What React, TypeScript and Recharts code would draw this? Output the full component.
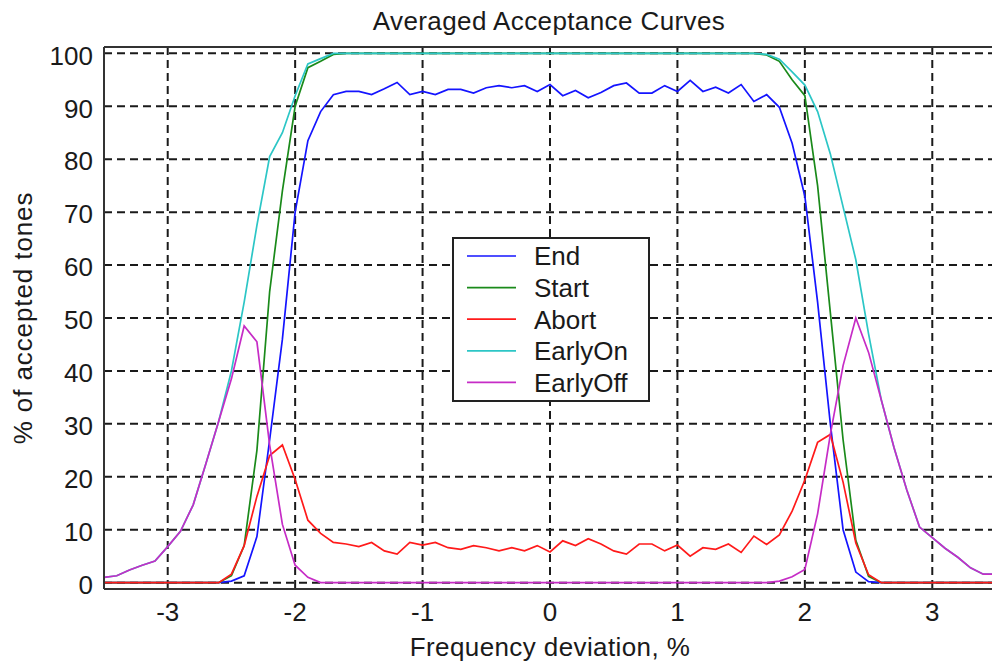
import { LineChart, Line, XAxis, YAxis, CartesianGrid, Legend, ReferenceLine } from 'recharts';

// frequency deviation, % (sample points of the averaged curves)
const deviation = [
  -3.5, -3.4, -3.3, -3.2, -3.1, -3.0, -2.9, -2.8, -2.7, -2.6,
  -2.5, -2.4, -2.3, -2.2, -2.1, -2.0, -1.9, -1.8, -1.7, -1.6,
  -1.5, -1.4, -1.3, -1.2, -1.1, -1.0, -0.9, -0.8, -0.7, -0.6,
  -0.5, -0.4, -0.3, -0.2, -0.1, 0.0, 0.1, 0.2, 0.3, 0.4,
  0.5, 0.6, 0.7, 0.8, 0.9, 1.0, 1.1, 1.2, 1.3, 1.4,
  1.5, 1.6, 1.7, 1.8, 1.9, 2.0, 2.1, 2.2, 2.3, 2.4,
  2.5, 2.6, 2.7, 2.8, 2.9, 3.0, 3.1, 3.2, 3.3, 3.4,
  3.5,
];

const endCurve = [
  0, 0, 0, 0, 0, 0, 0, 0, 0, 0,
  0.3, 1.3, 8.7, 27, 46, 70, 83.5, 89, 92.2, 92.8,
  92.8, 92.2, 93.3, 94.5, 92.2, 92.8, 92.2, 93.2, 93.2, 92.5,
  93.5, 93.9, 93.5, 93.9, 92.8, 94.1, 92.0, 93.0, 91.6, 92.6,
  93.9, 94.4, 92.5, 92.5, 93.9, 92.8, 94.9, 92.8, 93.6, 92.5,
  94.1, 90.9, 92.2, 89.8, 83, 73, 53, 30, 10, 2,
  0.2, 0, 0, 0, 0, 0, 0, 0, 0, 0,
  0,
];

const startCurve = [
  0, 0, 0, 0, 0, 0, 0, 0, 0, 0,
  1.3, 7, 25, 55, 74, 90, 97.3, 98.5, 99.8, 100,
  100, 100, 100, 100, 100, 100, 100, 100, 100, 100,
  100, 100, 100, 100, 100, 100, 100, 100, 100, 100,
  100, 100, 100, 100, 100, 100, 100, 100, 100, 100,
  100, 100, 99.7, 98.5, 95, 92, 75, 51, 27, 8,
  1.2, 0, 0, 0, 0, 0, 0, 0, 0, 0,
  0,
];

const abortCurve = [
  0, 0, 0, 0, 0, 0, 0, 0, 0, 0,
  1.6, 7, 16.3, 24, 26, 19.5, 11.8, 9.3, 7.6, 7.3,
  6.8, 7.6, 6.0, 5.4, 7.6, 7.1, 7.6, 6.6, 6.3, 7.0,
  6.6, 6.0, 6.6, 6.0, 7.0, 5.8, 7.9, 7.0, 8.3, 7.3,
  6.0, 5.4, 7.3, 7.3, 6.0, 7.1, 5.0, 6.6, 6.3, 7.3,
  5.7, 8.8, 7.2, 9.0, 13.5, 19.4, 26.5, 28, 19, 7.5,
  1.5, 0, 0, 0, 0, 0, 0, 0, 0, 0,
  0,
];

const earlyOnCurve = [
  1.0, 1.3, 2.4, 3.3, 4.1, 6.8, 9.7, 14.7, 22.5, 30.5,
  40, 53, 67.5, 80.5, 85, 92, 98, 99, 100, 100,
  100, 100, 100, 100, 100, 100, 100, 100, 100, 100,
  100, 100, 100, 100, 100, 100, 100, 100, 100, 100,
  100, 100, 100, 100, 100, 100, 100, 100, 100, 100,
  100, 100, 99.8, 98.9, 96.5, 94, 89, 81, 71, 61,
  47, 34.5, 25.5, 17.5, 10.5, 8.5, 6.5, 4.8, 2.8, 1.6,
  1.6,
];

const earlyOffCurve = [
  1.0, 1.3, 2.4, 3.3, 4.1, 6.8, 9.7, 14.7, 22.5, 30.5,
  38.5, 48.5, 45.5, 26, 11, 3.3, 1.0, 0, 0, 0,
  0, 0, 0, 0, 0, 0, 0, 0, 0, 0,
  0, 0, 0, 0, 0, 0, 0, 0, 0, 0,
  0, 0, 0, 0, 0, 0, 0, 0, 0, 0,
  0, 0, 0, 0.3, 1.1, 2.5, 13, 28, 41, 50,
  43.5, 34.5, 25.5, 17.5, 10.5, 8.5, 6.5, 4.8, 2.8, 1.6,
  1.6,
];

const xTicks = [-3, -2, -1, 0, 1, 2, 3];
const yTicks = [0, 10, 20, 30, 40, 50, 60, 70, 80, 90, 100];

const series = [
  { key: 'end', name: 'End', color: '#1414ff' },
  { key: 'start', name: 'Start', color: '#1a8a1a' },
  { key: 'abort', name: 'Abort', color: '#ff1a1a' },
  { key: 'earlyOn', name: 'EarlyOn', color: '#2cc6c6' },
  { key: 'earlyOff', name: 'EarlyOff', color: '#c62cc6' },
];

const data = deviation.map((x, i) => ({
  x,
  end: endCurve[i],
  start: startCurve[i],
  abort: abortCurve[i],
  earlyOn: earlyOnCurve[i],
  earlyOff: earlyOffCurve[i],
}));

const FONT = '"Liberation Sans", Arial, sans-serif';
const INK = '#1a1a1a';

function LegendBox(props: any) {
  const order = series.map((s) => s.name);
  const payload = [...(props.payload || [])].sort(
    (a: any, b: any) => order.indexOf(a.value) - order.indexOf(b.value)
  );
  return (
    <svg width={198} height={165} style={{ display: 'block' }}>
      <rect x={1} y={1} width={196} height={163} fill="#fff" stroke="#222" strokeWidth={2} />
      {payload.map((p: any, i: number) => {
        const y = 19 + i * 31.6;
        return (
          <g key={p.value}>
            <line x1={15} x2={64} y1={y} y2={y} stroke={p.color} strokeWidth={1.7} />
            <text x={82} y={y + 9.3} fontSize={26} fill={INK} fontFamily={FONT}>
              {p.value}
            </text>
          </g>
        );
      })}
    </svg>
  );
}

export default function App() {
  return (
    <div
      style={{
        position: 'absolute',
        left: 0,
        top: 0,
        width: 992,
        height: 663,
        overflow: 'hidden',
        background: '#fff',
      }}
    >
      <LineChart
        width={1000}
        height={663}
        data={data}
        margin={{ top: 47, right: 4, bottom: 0, left: 0 }}
        style={{ fontFamily: FONT }}
      >
        <text x={549} y={30} textAnchor="middle" fontSize={26} fill={INK} letterSpacing={0.4}>
          Averaged Acceptance Curves
        </text>
        <text
          transform="translate(32,318) rotate(-90)"
          textAnchor="middle"
          fontSize={26}
          fill={INK}
          letterSpacing={0.9}
        >
          % of accepted tones
        </text>

        <CartesianGrid stroke="#1a1a1a" strokeWidth={2} strokeDasharray="8 5" />

        <XAxis
          dataKey="x"
          type="number"
          domain={[-3.5, 3.5]}
          ticks={xTicks}
          interval={0}
          allowDataOverflow
          height={74}
          tickSize={0}
          tickMargin={14}
          axisLine={{ stroke: '#333', strokeWidth: 2 }}
          tick={{ fill: INK, fontSize: 26 }}
          label={{
            value: 'Frequency deviation, %',
            position: 'insideBottom',
            offset: 7,
            fill: INK,
            fontSize: 26,
            letterSpacing: 0.4,
          }}
        />
        <YAxis
          type="number"
          domain={[-1.2, 101.2]}
          ticks={yTicks}
          interval={0}
          allowDataOverflow
          width={104}
          tickSize={0}
          tickMargin={11}
          axisLine={{ stroke: '#333', strokeWidth: 2 }}
          tick={{ fill: INK, fontSize: 26, dy: 2 }}
        />
        <ReferenceLine y={101.2} stroke="#333" strokeWidth={2} />

        {series.map((s) => (
          <Line
            key={s.key}
            dataKey={s.key}
            name={s.name}
            stroke={s.color}
            strokeWidth={1.7}
            dot={false}
            activeDot={false}
            type="linear"
            isAnimationActive={false}
          />
        ))}

        <Legend
          layout="vertical"
          align="center"
          verticalAlign="middle"
          content={<LegendBox />}
          wrapperStyle={{ left: 452, top: 237, width: 198, height: 165 }}
        />
      </LineChart>
    </div>
  );
}
